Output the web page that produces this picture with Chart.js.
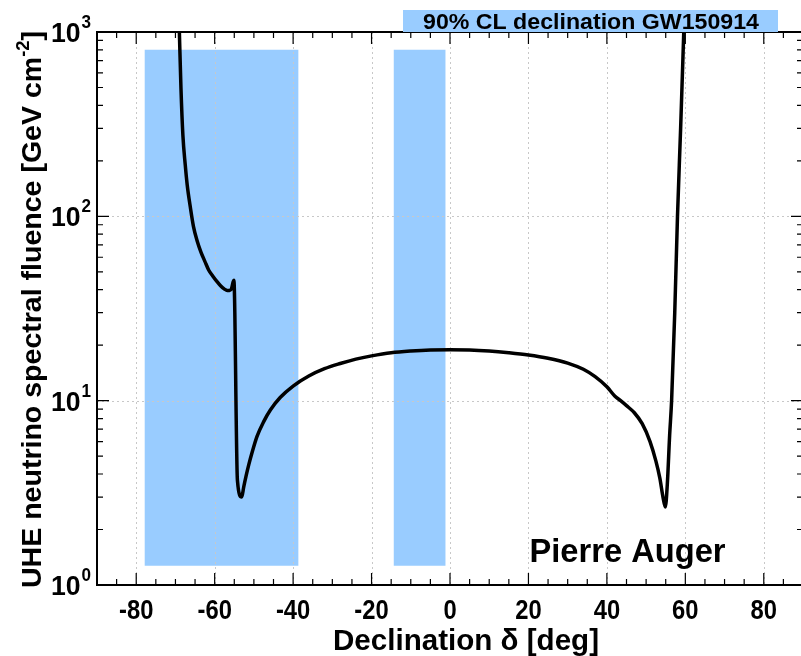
<!DOCTYPE html>
<html>
<head>
<meta charset="utf-8">
<title>UHE neutrino fluence vs declination</title>
<script src="https://cdn.jsdelivr.net/npm/chart.js@4.4.1/dist/chart.umd.min.js"></script>
<style>
    html, body { margin: 0; padding: 0; overflow: hidden; background: #fff; }
</style>
</head>
<body>
<canvas id="fluence-chart" width="808" height="656"></canvas>
<script>
// limits
const declination = [-69.0, -68.6, -68.1, -67.5, -67.0, -66.2, -65.4, -64.5, -63.5, -62.5, -61.5, -60.5, -59.5, -58.5, -57.5, -56.8, -56.2, -55.7, -55.3, -55.1,
    -54.2, -53.1, -52.6, -52.0, -51.3, -50.5, -49.2, -47.5, -45.8, -43.3, -40, -36, -32, -28, -24, -20, -15, -10, -5, 0,
    5, 10, 15, 20, 25, 30, 34, 37, 40, 42, 43.5, 45, 47, 49, 51, 52.5, 53.5, 54.3, 54.9, 55.4, 56.0, 56.5, 57.3, 58.0, 58.8, 59.6];
const fluence = [1000, 500, 275, 190, 148, 112, 88, 74, 64, 57, 51, 47.5, 44.5, 42, 40.3, 39.6, 39.6, 40.5, 44, 45,
    3.7, 3.0, 3.4, 3.9, 4.5, 5.2, 6.4, 7.7, 8.9, 10.4, 12.0, 13.6, 14.9, 15.9, 16.8, 17.5, 18.2, 18.6, 18.85, 18.9,
    18.85, 18.6, 18.2, 17.7, 17.0, 16.0, 14.8, 13.5, 11.9, 10.6, 10.0, 9.4, 8.6, 7.5, 6.0, 4.7, 3.8, 3.0, 2.65, 3.5, 6.5, 10, 30, 100, 300, 1000];

// 90% CL declination bands of GW150914
const bandFrom = [-77.9, -14.4];
const bandTo = [-38.6, -1.1];
const bandTop = 800;
const bandBottom = 1.27;

const xTickValues = [-80, -60, -40, -20, 0, 20, 40, 60, 80];
const yTickValues = [1, 10, 100, 1000];

const legendText = '90% CL declination GW150914';
const xTitle = 'Declination \u03b4 [deg]';
const yTitle = 'UHE neutrino spectral fluence [GeV cm';
const experiment = 'Pierre Auger';

const FONT = '"Liberation Sans", Arial, Helvetica, sans-serif';
const BLUE = '#99ccff';

function font(size) {
    return 'bold ' + size + 'px ' + FONT;
}

// text squeezed to a given width (root fonts are narrower)
function fitText(ctx, text, size, x, y, width, align) {
    ctx.save();
    ctx.font = font(size);
    const w = ctx.measureText(text).width;
    const sx = width ? width / w : 1;
    ctx.translate(x, y);
    ctx.scale(sx, 1);
    let x0 = 0;
    if (align === 'center') x0 = -w / 2;
    if (align === 'right') x0 = -w;
    ctx.textAlign = 'left';
    ctx.textBaseline = 'alphabetic';
    ctx.fillStyle = '#000';
    ctx.fillText(text, x0, 0);
    ctx.restore();
}

const rootStyle = {
    id: 'rootStyle',
    beforeDatasetDraw(chart, args) {
        if (args.index !== 0) return;
        // dotted grid goes over the bands but under the curve
        const ctx = chart.ctx;
        const { left, right, top, bottom } = chart.chartArea;
        const xs = chart.scales.x, ys = chart.scales.y;
        ctx.save();
        ctx.strokeStyle = '#c8c8c8';
        ctx.lineWidth = 1;
        ctx.setLineDash([2, 3]);
        xTickValues.forEach(v => {
            const px = Math.round(xs.getPixelForValue(v)) + 0.5;
            ctx.beginPath();
            ctx.moveTo(px, top);
            ctx.lineTo(px, bottom);
            ctx.stroke();
        });
        yTickValues.forEach(v => {
            const py = Math.round(ys.getPixelForValue(v)) + 0.5;
            ctx.beginPath();
            ctx.moveTo(left, py);
            ctx.lineTo(right, py);
            ctx.stroke();
        });
        ctx.restore();
    },
    afterDraw(chart) {
        const ctx = chart.ctx;
        const { left, right, top, bottom } = chart.chartArea;
        const xs = chart.scales.x, ys = chart.scales.y;

        ctx.save();
        // ticks on all four sides, pointing inwards
        ctx.strokeStyle = '#000';
        ctx.lineWidth = 1.2;
        ctx.beginPath();
        for (let v = -90; v <= 90; v += 5) {
            const px = xs.getPixelForValue(v);
            const len = v % 20 === 0 ? 12 : 6;
            ctx.moveTo(px, bottom);
            ctx.lineTo(px, bottom - len);
            ctx.moveTo(px, top);
            ctx.lineTo(px, top + len);
        }
        for (let d = 1; d < 1000; d *= 10) {
            for (let k = 1; k < 10; k++) {
                const py = ys.getPixelForValue(d * k);
                const len = k === 1 ? 12 : 6;
                ctx.moveTo(left, py);
                ctx.lineTo(left + len, py);
                ctx.moveTo(right, py);
                ctx.lineTo(right - len, py);
            }
        }
        ctx.stroke();

        // frame
        ctx.lineWidth = 2;
        ctx.strokeRect(left, top, right - left, bottom - top);

        // x tick labels
        ctx.fillStyle = '#000';
        xTickValues.forEach(v => {
            ctx.save();
            ctx.font = font(28);
            ctx.translate(xs.getPixelForValue(v), 619);
            ctx.scale(0.85, 1);
            ctx.textAlign = 'center';
            ctx.fillText(String(v), 0, 0);
            ctx.restore();
        });

        // y tick labels 10^n
        yTickValues.forEach(v => {
            const py = ys.getPixelForValue(v);
            const exp = String(Math.round(Math.log10(v)));
            ctx.save();
            ctx.font = font(19);
            const supW = ctx.measureText(exp).width * 0.9;
            ctx.restore();
            fitText(ctx, exp, 19, 91 - supW, py - 4, supW, 'left');
            ctx.save();
            ctx.font = font(28);
            const w = ctx.measureText('10').width * 0.95;
            ctx.restore();
            fitText(ctx, '10', 28, 91 - supW - 1, py + 10, w, 'right');
        });

        // axis titles
        fitText(ctx, xTitle, 29, 466, 650, 266, 'center');

        ctx.save();
        ctx.font = font(28);
        const mainW = ctx.measureText(yTitle).width;
        const closeW = ctx.measureText(']').width;
        ctx.font = font(18);
        const supW = ctx.measureText('-2').width;
        const sx = 557 / (mainW + supW + closeW);
        ctx.translate(41, 588);
        ctx.rotate(-Math.PI / 2);
        ctx.scale(sx, 1);
        ctx.fillStyle = '#000';
        ctx.font = font(28);
        ctx.fillText(yTitle, 0, 0);
        ctx.font = font(18);
        ctx.fillText('-2', mainW, -12);
        ctx.font = font(28);
        ctx.fillText(']', mainW + supW, 0);
        ctx.restore();

        // legend box above the frame
        ctx.fillStyle = BLUE;
        ctx.fillRect(403, 10, 375, 22);
        fitText(ctx, legendText, 22, 423, 28.5, 336, 'left');

        fitText(ctx, experiment, 32.5, 529.5, 561.5, 196, 'left');
        ctx.restore();
    }
};

const curve = declination.map((d, i) => ({ x: d, y: fluence[i] }));

const bandSets = bandFrom.map((from, i) => ({
    label: 'GW150914 band ' + (i + 1),
    data: [{ x: from, y: bandTop }, { x: bandTo[i], y: bandTop }],
    backgroundColor: BLUE,
    borderColor: BLUE,
    borderWidth: 0,
    pointRadius: 0,
    fill: { value: bandBottom }
}));

const config = {
    type: 'line',
    data: {
        datasets: [
            {
                label: 'Pierre Auger limit',
                data: curve,
                borderColor: '#000',
                borderWidth: 3.5,
                pointRadius: 0,
                cubicInterpolationMode: 'monotone',
                fill: false
            },
            ...bandSets
        ]
    },
    options: {
        responsive: false,
        animation: false,
        layout: { padding: { top: 32, right: 5, left: 0, bottom: 0 } },
        plugins: {
            legend: { display: false },
            tooltip: { enabled: false }
        },
        scales: {
            x: {
                type: 'linear',
                min: -90,
                max: 90,
                afterBuildTicks: s => { s.ticks = xTickValues.map(v => ({ value: v })); },
                afterFit: s => { s.height = 71; },
                ticks: { display: false },
                grid: { display: false },
                border: { display: false }
            },
            y: {
                type: 'logarithmic',
                min: 1,
                max: 1000,
                afterBuildTicks: s => { s.ticks = yTickValues.map(v => ({ value: v })); },
                afterFit: s => { s.width = 97; },
                ticks: { display: false },
                grid: { display: false },
                border: { display: false }
            }
        }
    },
    plugins: [rootStyle]
};

const ctx = document.getElementById('fluence-chart').getContext('2d');
const fluenceChart = new Chart(ctx, config);
</script>
</body>
</html>
